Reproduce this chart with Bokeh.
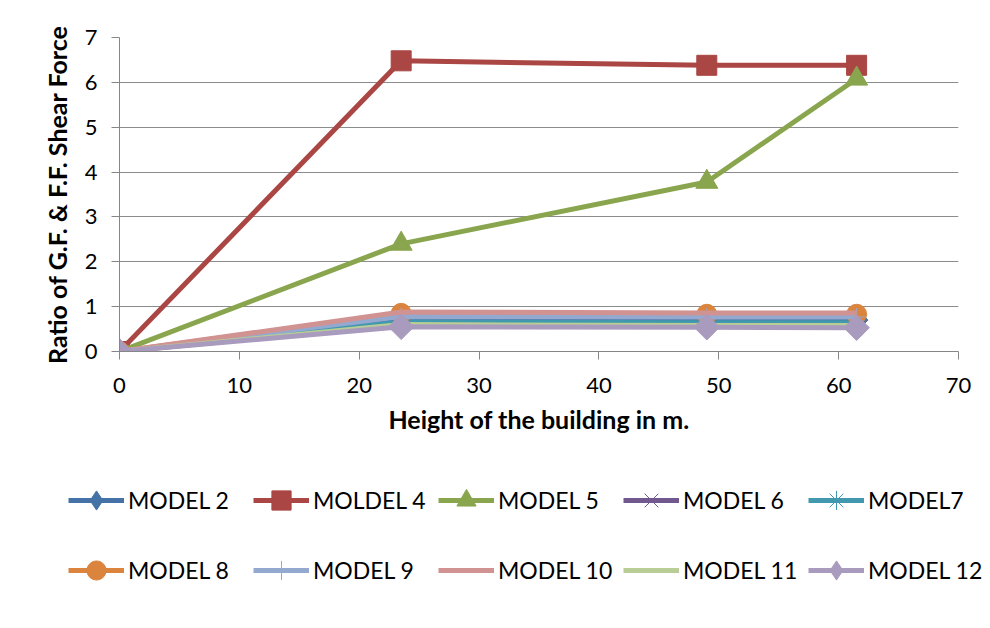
import math
from bokeh.plotting import figure
from bokeh.layouts import column
from bokeh.models import Legend, LegendItem, FixedTicker, Range1d
from bokeh.embed import file_html
from bokeh.resources import INLINE

heights = [0, 23.5, 49, 61.5]
names = ["MODEL 2", "MOLDEL 4", "MODEL 5", "MODEL 6", "MODEL7",
         "MODEL 8", "MODEL 9", "MODEL 10", "MODEL 11", "MODEL 12"]
model2 = [0, 0.72, 0.70, 0.70]
model4 = [0, 6.48, 6.38, 6.38]
model5 = [0, 2.40, 3.78, 6.08]
model6 = [0, 0.60, 0.58, 0.58]
model7 = [0, 0.66, 0.64, 0.64]
model8 = [0, 0.85, 0.83, 0.83]
model9 = [0, 0.78, 0.77, 0.77]
model10 = [0, 0.88, 0.86, 0.86]
model11 = [0, 0.60, 0.58, 0.58]
model12 = [0, 0.55, 0.54, 0.53]
series = [model2, model4, model5, model6, model7, model8, model9, model10, model11, model12]
colors = ["#4572A7", "#AA4643", "#89A54E", "#71588F", "#4198AF",
          "#DB843D", "#93A9CF", "#D19392", "#B9CD96", "#A99BBD"]
# plot markers (diamonds drawn as rotated squares)
markers = ["square", "square", "triangle", "x", "asterisk",
           "circle", "cross", None, None, "square"]
angles = [math.pi / 4, 0, 0, 0, 0, 0, 0, 0, 0, math.pi / 4]
msizes = [16, 20, 22, 16, 16, 20, 18, 0, 0, 18]
# legend markers
leg_markers = ["diamond", "square", "triangle", "x", "asterisk",
               "circle", "cross", None, None, "diamond"]
leg_sizes = [22, 16, 18, 16, 16, 17, 18, 0, 0, 22]
x_ticks = [0, 10, 20, 30, 40, 50, 60, 70]
y_ticks = [0, 1, 2, 3, 4, 5, 6, 7]

FONT = "Lato"

p = figure(width=990, height=451, output_backend="svg", toolbar_location=None,
           x_range=Range1d(0, 70), y_range=Range1d(0, 7),
           min_border_left=119, min_border_right=32, min_border_top=37, min_border_bottom=100)
p.background_fill_color = "white"
p.border_fill_color = "white"
p.outline_line_color = None

p.xgrid.visible = False
p.ygrid.grid_line_color = "#8C8C8C"
p.ygrid.grid_line_width = 1
p.ygrid.ticker = FixedTicker(ticks=y_ticks)

for ax, ticks in ((p.xaxis, x_ticks), (p.yaxis, y_ticks)):
    ax.ticker = FixedTicker(ticks=ticks)
    ax.axis_line_color = "#868686"
    ax.major_tick_line_color = "#868686"
    ax.major_tick_out = 8
    ax.major_tick_in = 0
    ax.minor_tick_line_color = None
    ax.major_label_text_font = FONT
    ax.major_label_text_font_size = "22px"
    ax.major_label_text_color = "#000000"
    ax.axis_label_text_font = FONT
    ax.axis_label_text_font_style = "bold"
    ax.axis_label_text_font_size = "25px"
    ax.axis_label_text_color = "#000000"

p.xaxis.axis_label = "Height of the building in m."
p.yaxis.axis_label = "Ratio of G.F. & F.F. Shear Force"
p.xaxis.major_label_standoff = 18
p.xaxis.axis_label_standoff = 8
p.yaxis.major_label_standoff = 14
p.yaxis.axis_label_standoff = 10

# legend strip: same series drawn outside its visible range, only the legend shows
q = figure(width=990, height=177, output_backend="svg", toolbar_location=None,
           x_range=Range1d(1000, 1001), y_range=Range1d(1000, 1001),
           x_axis_type=None, y_axis_type=None,
           min_border_left=0, min_border_right=0, min_border_top=0, min_border_bottom=0)
q.background_fill_color = "white"
q.border_fill_color = "white"
q.outline_line_color = None
q.grid.visible = False

legend_x = 68
try:
    q.frame_align = False
    p.frame_align = False
except Exception:
    legend_x = 68 - 119

items = []
for i, (name, ys, c) in enumerate(zip(names, series, colors)):
    p.line(heights, ys, line_color=c, line_width=5)
    r = [q.line(heights, ys, line_color=c, line_width=5)]
    if markers[i] is not None:
        p.scatter(heights, ys, marker=markers[i], size=msizes[i], angle=angles[i],
                  fill_color=c, line_color=c, line_width=1)
        r.append(q.scatter(heights, ys, marker=leg_markers[i], size=leg_sizes[i],
                           fill_color=c, line_color=c, line_width=1))
    items.append(LegendItem(label=name, renderers=r))


def make_legend(its, loc):
    lg = Legend(items=its, orientation="horizontal")
    lg.label_text_font = FONT
    lg.label_text_font_size = "23px"
    lg.label_text_color = "#000000"
    lg.glyph_width = 56
    lg.glyph_height = 48
    lg.label_height = 48
    lg.label_width = 125
    lg.label_standoff = 4
    lg.spacing = 0
    lg.border_line_color = None
    lg.background_fill_alpha = 0
    lg.padding = 0
    lg.margin = 0
    lg.location = loc
    return lg


q.add_layout(make_legend(items[:5], (legend_x, 104)), "center")
q.add_layout(make_legend(items[5:], (legend_x, 34)), "center")

layout = column(p, q, spacing=0)

with open("out.html", "w") as f:
    f.write(file_html(layout, INLINE))
